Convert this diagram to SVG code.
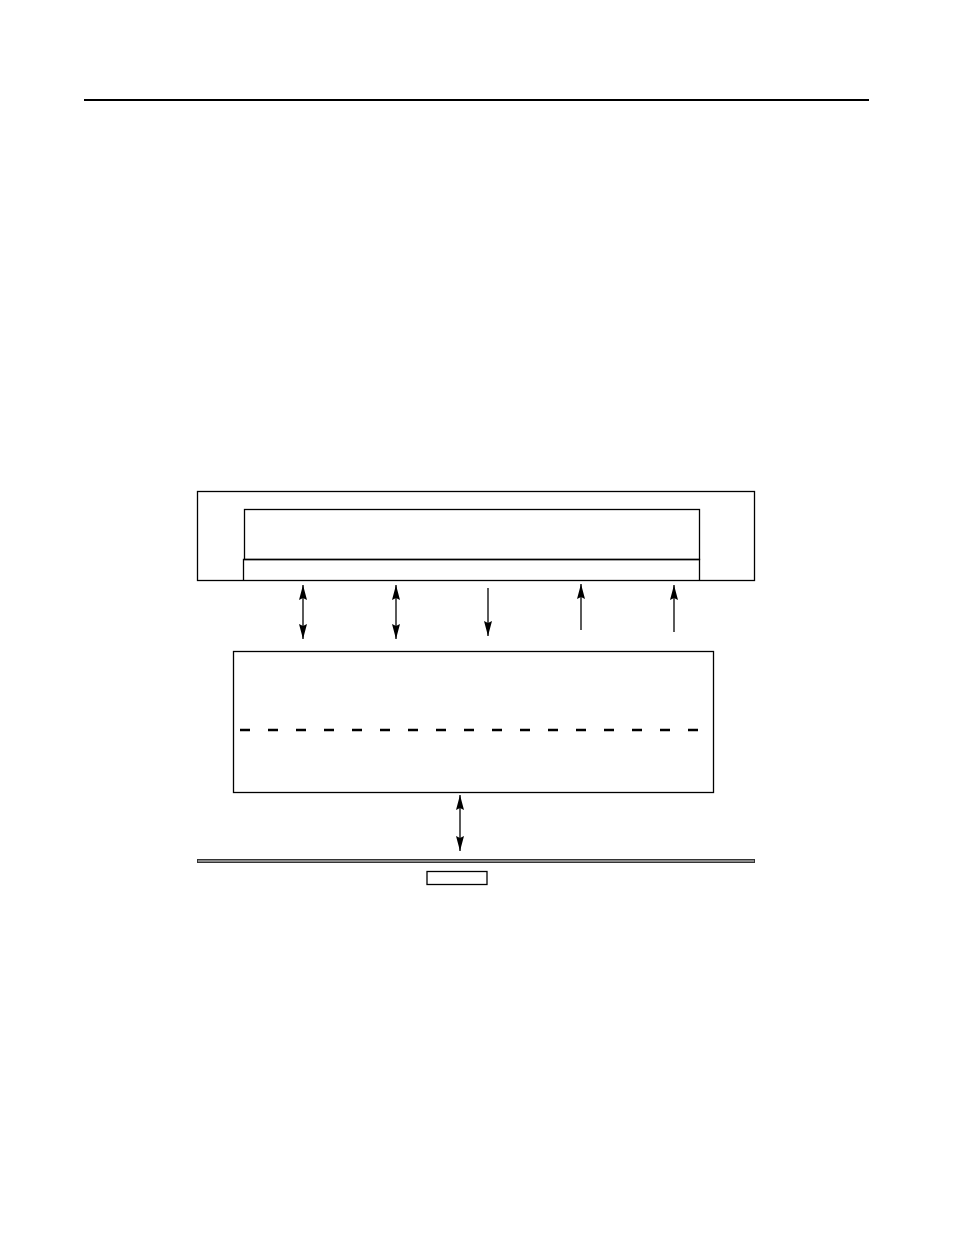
<svg xmlns="http://www.w3.org/2000/svg" width="954" height="1235" viewBox="0 0 954 1235">
<style>
.box{fill:none;stroke:#000;stroke-width:1.3}
.ln{stroke:#000;stroke-width:1.3;fill:none}
</style>
<defs>
<marker id="ah" viewBox="0 0 15 9" refX="15" refY="4.5" markerWidth="15" markerHeight="9" markerUnits="userSpaceOnUse" orient="auto-start-reverse">
<path d="M0,0.5 L15,4.5 L0,8.5 L2,4.5 Z" fill="#000"/>
</marker>
</defs>
<rect width="954" height="1235" fill="#fff"/>
<line id="header" x1="84" y1="100" x2="869" y2="100" stroke="#000" stroke-width="2"/>
<g id="outer"><rect class="box" x="197.5" y="491.5" width="557" height="89"/></g>
<g id="inner"><rect class="box" x="244.5" y="509.5" width="455" height="50"/></g>
<g id="strip"><polyline class="ln" points="243.5,580.5 243.5,559.5 699.5,559.5 699.5,580.5"/></g>
<g id="middle"><rect class="box" x="233.5" y="651.5" width="480" height="141"/>
<line x1="240" y1="730" x2="702" y2="730" stroke="#000" stroke-width="2.6" stroke-dasharray="10 18"/></g>
<g id="bus"><rect x="197.5" y="859.5" width="557" height="3" fill="#888" stroke="#333" stroke-width="1"/></g>
<g id="smallbox"><rect class="box" x="427" y="871.5" width="60" height="13"/></g>
<g id="connectors">
<line class="ln" x1="303" y1="585" x2="303" y2="639" marker-start="url(#ah)" marker-end="url(#ah)"/>
<line class="ln" x1="396" y1="585" x2="396" y2="639" marker-start="url(#ah)" marker-end="url(#ah)"/>
<line class="ln" x1="488" y1="588" x2="488" y2="636" marker-end="url(#ah)"/>
<line class="ln" x1="581" y1="630" x2="581" y2="584" marker-end="url(#ah)"/>
<line class="ln" x1="674" y1="632" x2="674" y2="585" marker-end="url(#ah)"/>
<line class="ln" x1="460" y1="795" x2="460" y2="851" marker-start="url(#ah)" marker-end="url(#ah)"/>
</g>
</svg>
